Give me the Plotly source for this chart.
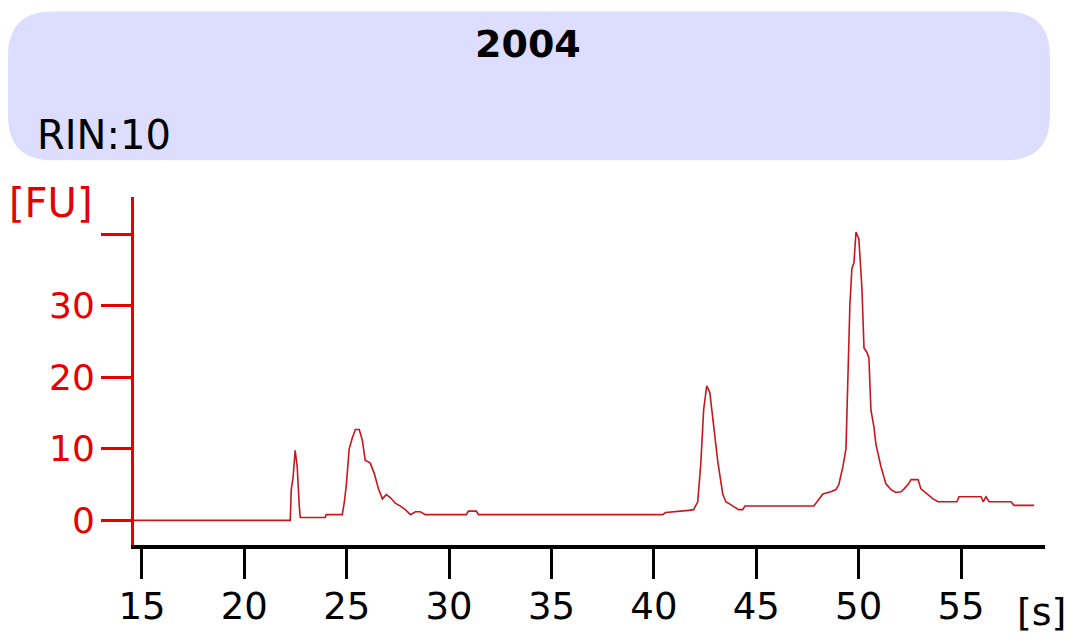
import plotly.graph_objects as go

# ---- data ----
time_s = [14.5, 22.24, 22.29, 22.38, 22.48, 22.58, 22.68, 22.73, 23.95, 24.0, 24.78, 24.88,
          24.98, 25.12, 25.27, 25.42, 25.61, 25.76, 25.90, 26.15, 26.35, 26.54, 26.74, 26.93,
          27.13, 27.37, 27.62, 27.86, 28.11, 28.35, 28.59, 28.84, 30.84, 30.94, 31.33, 31.43,
          40.43, 40.57, 41.70, 41.94, 42.14, 42.29, 42.43, 42.58, 42.73, 42.92, 43.12, 43.36,
          43.51, 43.75, 44.14, 44.34, 44.44, 47.81, 47.91, 48.06, 48.25, 48.64, 48.89, 49.03,
          49.23, 49.38, 49.47, 49.57, 49.67, 49.77, 49.87, 50.01, 50.16, 50.26, 50.40, 50.50,
          50.60, 50.75, 50.84, 50.99, 51.09, 51.33, 51.58, 51.82, 52.07, 52.22, 52.41, 52.56,
          52.90, 53.04, 53.39, 53.63, 53.88, 54.80, 54.90, 55.98, 56.08, 56.22, 56.37, 57.44,
          57.59, 58.57]
fluorescence = [0.0, 0.0, 4.3, 6.0, 9.8, 7.5, 2.0, 0.4, 0.4, 0.8, 0.8, 2.5,
                5.0, 10.0, 11.5, 12.7, 12.7, 11.2, 8.4, 8.0, 6.5, 4.5, 3.0, 3.6,
                3.2, 2.4, 2.0, 1.5, 0.8, 1.2, 1.2, 0.8, 0.8, 1.3, 1.3, 0.8,
                0.8, 1.1, 1.4, 1.5, 2.6, 7.9, 15.5, 18.8, 17.9, 13.3, 8.2, 3.7,
                2.6, 2.2, 1.5, 1.5, 2.0, 2.0, 2.4, 3.0, 3.7, 4.0, 4.3, 5.0,
                7.5, 10.0, 19.5, 30.0, 35.2, 36.0, 40.3, 39.3, 32.4, 24.1, 23.5, 22.7,
                15.4, 13.0, 10.7, 8.5, 7.5, 5.1, 4.3, 3.9, 4.0, 4.4, 5.0, 5.7,
                5.7, 4.4, 3.6, 3.0, 2.6, 2.6, 3.3, 3.3, 2.6, 3.3, 2.6, 2.6,
                2.1, 2.1]

x_ticks = [15, 20, 25, 30, 35, 40, 45, 50, 55]
y_ticks = [0, 10, 20, 30, 40]
y_tick_labels = ["0", "10", "20", "30", ""]
sample_name = "2004"
rin_text = "RIN:10"
y_unit = "[FU]"
x_unit = "[s]"

# ---- layout geometry (pixels) ----
W, H = 1070, 640
L, R, T, B = 134, 1045, 197, 548
PW, PH = R - L, B - T


def px(xp):
    return (xp - L) / PW


def py(yp):
    return (B - yp) / PH


RED = "#E60000"
FONT = "DejaVu Sans"

fig = go.Figure()
fig.add_trace(go.Scatter(
    x=time_s, y=fluorescence, mode="lines",
    line=dict(color="#C8161E", width=1.6),
    hoverinfo="skip", showlegend=False,
))

# rounded header box
x0, x1 = px(8), px(1050)
y0, y1 = py(160), py(10)
rx, ry = 45 / PW, 45 / PH
path = (f"M {x0+rx},{y1} L {x1-rx},{y1} Q {x1},{y1} {x1},{y1-ry} "
        f"L {x1},{y0+ry} Q {x1},{y0} {x1-rx},{y0} L {x0+rx},{y0} "
        f"Q {x0},{y0} {x0},{y0+ry} L {x0},{y1-ry} Q {x0},{y1} {x0+rx},{y1} Z")
fig.add_shape(type="path", path=path, xref="paper", yref="paper",
              fillcolor="#DDDDFF", line=dict(width=0), layer="below")

fig.add_annotation(text=f"<b>{sample_name}</b>", xref="paper", yref="paper",
                   x=px(528), y=py(43), xanchor="center", yanchor="middle",
                   showarrow=False, font=dict(family=FONT, size=38, color="black"))
fig.add_annotation(text=rin_text, xref="paper", yref="paper",
                   x=px(35), y=py(134), xanchor="left", yanchor="middle",
                   showarrow=False, font=dict(family=FONT, size=40, color="black"))
fig.add_annotation(text=y_unit, xref="paper", yref="paper",
                   x=px(7), y=py(203), xanchor="left", yanchor="middle",
                   showarrow=False, font=dict(family=FONT, size=40, color=RED))
fig.add_annotation(text=x_unit, xref="paper", yref="paper",
                   x=px(1015), y=py(616), xanchor="left", yanchor="middle",
                   showarrow=False, font=dict(family=FONT, size=38, color="black"))

fig.update_layout(
    width=W, height=H,
    margin=dict(l=L, r=W - R, t=T, b=H - B, pad=0),
    paper_bgcolor="white", plot_bgcolor="white",
    xaxis=dict(range=[14.61, 59.10], tickvals=x_ticks, ticks="outside", ticklen=30,
               tickwidth=3, tickcolor="black", showline=True, linecolor="black",
               linewidth=4, showgrid=False, zeroline=False, ticklabelstandoff=-4,
               tickfont=dict(family=FONT, size=37, color="black")),
    yaxis=dict(range=[-3.44, 45.19], tickvals=y_ticks, ticktext=y_tick_labels,
               ticks="outside", ticklen=30, tickwidth=3, tickcolor=RED,
               showline=True, linecolor=RED, linewidth=3, showgrid=False,
               zeroline=False, ticklabelstandoff=-1,
               tickfont=dict(family=FONT, size=36, color=RED)),
)

fig.write_html("out.html")
